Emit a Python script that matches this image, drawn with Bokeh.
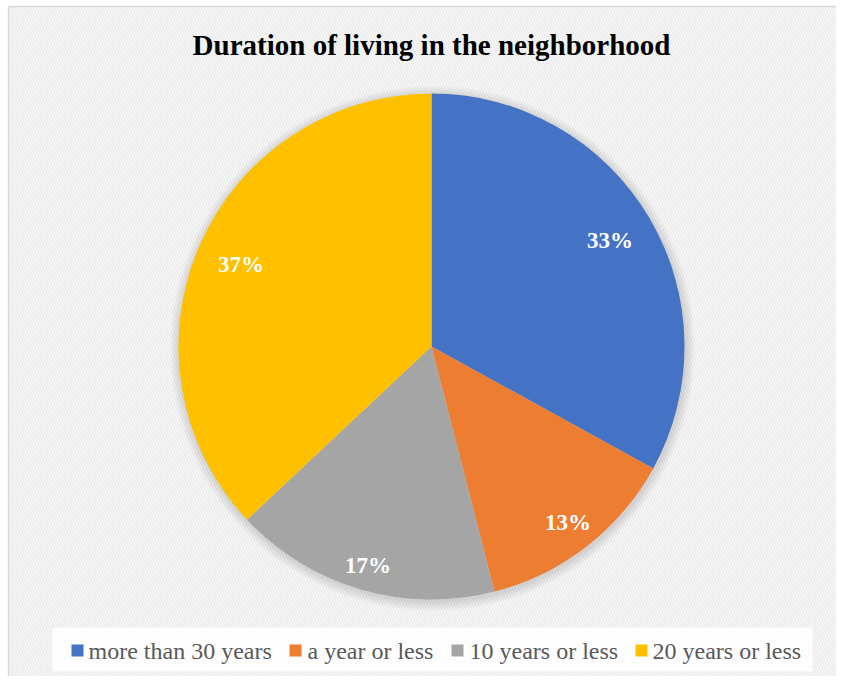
import numpy as np
import pandas as pd
from bokeh.plotting import figure
from bokeh.models import ColumnDataSource, Range1d, Label
from bokeh.core.properties import value
from bokeh.embed import file_html
from bokeh.resources import INLINE

# ---- data ----
categories = ["more than 30 years", "a year or less", "10 years or less", "20 years or less"]
percent = [33, 13, 17, 37]
colors = ["#4472C4", "#ED7D31", "#A5A5A5", "#FFC000"]
title_text = "Duration of living in the neighborhood"

# ---- layout constants ----
W, H = 836, 676
CX, CY, R = 431, H - 346, 253
label_radius_frac = [0.82, 0.88, 0.90, 0.82]
legend_marker_x = [77, 295, 457, 641]
legend_text_x = [88, 307, 469, 652]

df = pd.DataFrame({"cat": categories, "pct": percent, "color": colors})
df["angle"] = df["pct"] / df["pct"].sum() * 2 * np.pi
df["end"] = np.pi / 2 - df["angle"].cumsum()
df["start"] = df["end"] + df["angle"]
df["mid"] = (df["start"] + df["end"]) / 2
df["lr"] = np.array(label_radius_frac) * R
df["lx"] = CX + df["lr"] * np.cos(df["mid"])
df["ly"] = CY + df["lr"] * np.sin(df["mid"])
df["txt"] = df["pct"].astype(str) + "%"
df["cx"] = CX
df["cy"] = CY
df["mx"] = legend_marker_x
df["tx"] = legend_text_x
df["my"] = H - 650
df["ty"] = H - 650

p = figure(width=W, height=H, output_backend="svg", toolbar_location=None,
           x_range=Range1d(0, W), y_range=Range1d(0, H), min_border=0)
p.axis.visible = False
p.grid.visible = False
p.outline_line_color = None
p.background_fill_color = "white"
p.border_fill_color = "white"

# hatched chart-area background with light border (left/top)
p.quad(left=[8], right=[W + 10], bottom=[-10], top=[H - 6], fill_color="#F9F9F9",
       line_color="#D9D9D9", line_width=1.5, hatch_pattern="\\", hatch_color="#EAEAEA",
       hatch_scale=6, hatch_weight=1.5, hatch_alpha=1.0)

# soft shadow
for k in range(1, 9):
    p.circle(x=[CX + 1], y=[CY - 2], radius=R + k * 1.2, fill_color="black",
             fill_alpha=0.016, line_color=None)

src = ColumnDataSource(df)
p.wedge(x="cx", y="cy", radius=R, start_angle="end", end_angle="start",
        fill_color="color", line_color=None, source=src)

p.text(x="lx", y="ly", text="txt", source=src, text_color="white",
       text_font=value("Liberation Serif"), text_font_style="bold",
       text_font_size="23px", text_align="center", text_baseline="middle")

title = Label(x=CX, y=H - 44, text=title_text, text_align="center", text_baseline="middle",
              text_font="Liberation Serif", text_font_style="bold", text_font_size="29px",
              text_color="black")
p.add_layout(title)

# legend (drawn in the plot's own coordinates)
p.quad(left=[52], right=[812], bottom=[H - 671], top=[H - 627], fill_color="white",
       fill_alpha=0.85, line_color=None)
p.rect(x="mx", y="my", width=12, height=12, width_units="screen", height_units="screen",
       fill_color="color", line_color=None, source=src)
p.text(x="tx", y="ty", text="cat", source=src, text_color="#595959",
       text_font=value("Liberation Serif"), text_font_size="24px",
       text_align="left", text_baseline="middle")

open("out.html", "w").write(file_html(p, INLINE))
